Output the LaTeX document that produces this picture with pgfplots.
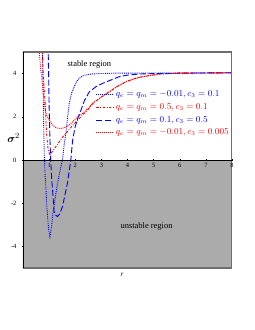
\documentclass[border=0pt]{standalone}
\usepackage{amsmath}
\usepackage{pgfplots}
\pgfplotsset{compat=1.18}
\usepackage{fontspec}
\setmainfont{Liberation Serif}
\definecolor{regiongray}{HTML}{ABABAB}
\definecolor{framegray}{HTML}{6E6E6E}
\begin{document}
\begin{tikzpicture}[x=1bp,y=1bp]
\useasboundingbox (-23,-62) rectangle (232,268);
\begin{axis}[
  at={(0,0)}, anchor=south west,
  scale only axis, width=209bp, height=216bp,
  xmin=0, xmax=8, ymin=-5, ymax=5,
  axis on top=true,
  axis x line=middle, axis y line=left,
  axis line style={-, black, line width=0.9pt},
  xtick={1,2,3,4,5,6,7,8}, ytick={-4,-2,0,2,4},
  tick style={black, line width=0.4pt},
  major tick length=2bp,
  tick label style={font=\fontsize{6.5}{7}\selectfont},
  /pgf/number format/assume math mode=true,
  xticklabel style={yshift=1bp},
  yticklabel style={xshift=-2bp},
  xlabel={\textit{r}}, 
  xlabel style={at={(rel axis cs:0.474,-0.03)}, anchor=center, font=\fontsize{7}{8}\selectfont},
  ylabel={$\boldsymbol{\sigma}^{2}$},
  ylabel style={at={(rel axis cs:-0.045,0.6)}, anchor=center, rotate=-90, font=\fontsize{11}{12}\selectfont},
  clip=true,
  legend style={at={(rel axis cs:0.995,0.83)}, anchor=north east, draw=none, fill=none,
    font=\fontsize{9}{10}\selectfont, row sep=1.5pt, inner sep=0pt},
  legend cell align=left,
  legend image code/.code={\draw[#1] (0bp,0bp) -- (17bp,0bp);},
]
\addplot[fill=regiongray, draw=none, forget plot] coordinates {(0,-5) (8,-5) (8,0) (0,0)} -- cycle;

\addplot[blue, line width=0.9pt, densely dotted] coordinates {
(0.74,5.3)(0.76,4)(0.78,2.5)(0.80,1.0)(0.82,0)(0.85,-0.8)(0.87,-1.1)(0.90,-1.9)(0.94,-2.62)(0.98,-3.2)(1.03,-3.55)(1.08,-3.2)(1.13,-2.62)(1.2,-2.05)(1.26,-1.54)(1.35,-0.9)(1.45,-0.31)(1.51,0)(1.58,0.75)(1.64,1.23)(1.70,1.9)(1.77,2.62)(1.86,3.1)(1.96,3.39)(2.05,3.62)(2.15,3.78)(2.3,3.9)(2.41,3.94)(2.6,3.98)(2.9,4.0)(3.5,4.02)(4,4.02)(5,4.03)(6,4.03)(7,4.03)(8,4.03)};
\addlegendentry{\color{blue}$q_e = q_m = -0.01, c_3 = 0.1$}

\addplot[red, line width=0.9pt, dash pattern=on 2.5bp off 1.5bp on 0.8bp off 1.5bp] coordinates {
(0.72,5.3)(0.74,5)(0.78,3.8)(0.85,2.6)(0.90,1.25)(0.96,0.5)(1.03,0.2)(1.1,0.35)(1.26,0.62)(1.51,1.05)(1.77,1.42)(2.03,1.77)(2.28,2.08)(2.5,2.35)(2.67,2.62)(3.0,2.92)(3.31,3.16)(3.6,3.4)(3.95,3.63)(4.3,3.78)(4.59,3.86)(5.23,3.98)(6,4.02)(7,4.03)(8,4.04)};
\addlegendentry{\color{red}$q_e = q_m = 0.5, c_3 = 0.1$}

\addplot[blue, line width=0.9pt, dash pattern=on 6bp off 2.5bp] coordinates {
(0.96,5.3)(0.98,4)(1.0,2.5)(1.03,1)(1.06,0)(1.1,-0.9)(1.15,-1.7)(1.19,-2.39)(1.25,-2.55)(1.32,-2.62)(1.4,-2.5)(1.51,-2.16)(1.6,-1.65)(1.70,-1.08)(1.77,-0.5)(1.83,0)(1.9,0.93)(2.0,1.55)(2.1,1.95)(2.22,2.31)(2.35,2.75)(2.54,3.16)(2.8,3.4)(3.05,3.55)(3.4,3.72)(3.69,3.86)(4.0,3.93)(4.46,3.98)(5,4.0)(6,4.02)(7,4.03)(8,4.04)};
\addlegendentry{\color{blue}$q_e = q_m = 0.1, c_3 = 0.5$}

\addplot[red, line width=0.9pt, densely dotted] coordinates {
(0.60,5.3)(0.62,5)(0.68,4.2)(0.74,3.55)(0.80,2.8)(0.85,2.3)(0.92,2.0)(1.0,1.85)(1.13,1.62)(1.26,1.5)(1.38,1.46)(1.51,1.47)(1.64,1.53)(1.77,1.62)(1.9,1.77)(2.03,1.93)(2.28,2.16)(2.5,2.4)(2.67,2.62)(3.0,2.92)(3.31,3.16)(3.6,3.4)(3.95,3.63)(4.3,3.78)(4.59,3.86)(5.23,3.98)(6,4.02)(7,4.03)(8,4.04)};
\addlegendentry{\color{red}$q_e = q_m = -0.01, c_3 = 0.005$}

\node[font=\fontsize{8.5}{9}\selectfont] at (axis cs:2.54,4.44) {stable region};
\node[font=\fontsize{8.5}{9}\selectfont] at (axis cs:4.73,-3.06) {unstable region};
\draw[framegray, line width=1.4pt] (rel axis cs:0,0) rectangle (rel axis cs:1,1);
\end{axis}
\end{tikzpicture}
\end{document}
